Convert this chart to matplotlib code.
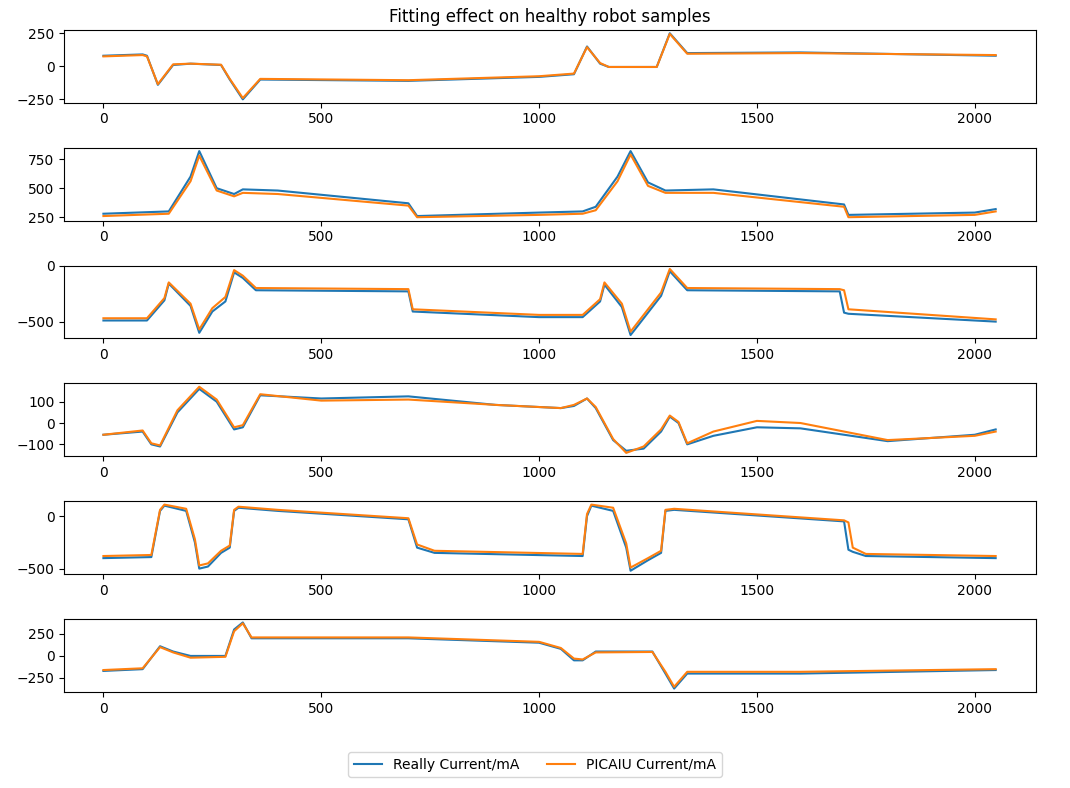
import matplotlib
matplotlib.use('Agg')
import matplotlib.pyplot as plt

# keypoints (sample index, current in mA)
p1_x = [0, 90, 100, 125, 160, 200, 270, 290, 320, 360, 700, 1000, 1080, 1110, 1140, 1160, 1270, 1300, 1340, 1600, 2048]
p1_real = [80, 90, 80, -140, 10, 20, 10, -100, -250, -100, -110, -80, -60, 150, 20, -5, -5, 250, 100, 105, 80]
p1_pica = [75, 85, 75, -135, 15, 20, 12, -95, -240, -95, -105, -75, -55, 145, 25, -5, -5, 245, 95, 100, 85]

p2_x = [0, 150, 200, 220, 260, 300, 320, 400, 700, 720, 1000, 1100, 1130, 1180, 1210, 1250, 1290, 1400, 1700, 1710, 2000, 2048]
p2_real = [280, 300, 600, 820, 500, 450, 490, 480, 370, 260, 290, 300, 340, 600, 820, 550, 480, 490, 360, 270, 290, 320]
p2_pica = [260, 280, 560, 780, 480, 430, 460, 450, 350, 250, 270, 280, 310, 560, 790, 520, 460, 460, 340, 250, 270, 300]

p3_x = [0, 100, 140, 150, 200, 220, 250, 280, 300, 320, 350, 700, 710, 1000, 1100, 1140, 1150, 1190, 1210, 1250, 1280, 1300, 1340, 1690, 1700, 1710, 2048]
p3_real = [-490, -490, -310, -160, -360, -600, -410, -320, -60, -110, -220, -230, -410, -460, -460, -320, -170, -370, -620, -420, -270, -50, -220, -230, -420, -430, -500]
p3_pica = [-470, -470, -290, -150, -340, -570, -380, -280, -40, -90, -200, -210, -390, -440, -440, -300, -150, -340, -590, -390, -240, -30, -200, -210, -220, -390, -480]

p4_x = [0, 90, 110, 130, 170, 220, 260, 300, 320, 360, 500, 700, 900, 1050, 1080, 1110, 1130, 1170, 1200, 1240, 1280, 1300, 1320, 1340, 1400, 1500, 1600, 1800, 2000, 2048]
p4_real = [-55, -40, -100, -110, 50, 160, 100, -30, -20, 130, 115, 125, 85, 70, 80, 115, 70, -80, -130, -120, -40, 30, 0, -100, -60, -20, -25, -85, -55, -30]
p4_pica = [-55, -35, -95, -105, 60, 170, 110, -20, -10, 135, 105, 110, 85, 70, 85, 115, 75, -75, -140, -110, -30, 35, 5, -95, -40, 10, 0, -80, -60, -40]

p5_x = [0, 110, 130, 140, 190, 210, 220, 240, 270, 290, 300, 310, 400, 700, 720, 760, 1100, 1110, 1120, 1170, 1200, 1210, 1250, 1280, 1290, 1310, 1700, 1710, 1720, 1750, 2048]
p5_real = [-400, -390, 50, 100, 50, -250, -500, -480, -350, -300, 50, 80, 50, -30, -300, -350, -380, 0, 100, 50, -300, -520, -420, -350, 50, 60, -50, -320, -340, -380, -400]
p5_pica = [-380, -370, 60, 110, 70, -220, -470, -450, -330, -280, 60, 90, 60, -20, -270, -330, -360, 20, 110, 80, -260, -490, -400, -330, 60, 70, -40, -60, -300, -360, -380]

p6_x = [0, 90, 130, 160, 200, 280, 300, 320, 340, 700, 1000, 1050, 1080, 1100, 1130, 1260, 1290, 1310, 1340, 1600, 2048]
p6_real = [-170, -150, 110, 50, 0, 0, 300, 380, 200, 200, 150, 80, -50, -50, 50, 50, -200, -370, -200, -200, -160]
p6_pica = [-160, -140, 100, 40, -20, -10, 280, 370, 210, 210, 160, 90, -30, -40, 40, 45, -180, -350, -180, -180, -150]

panels = [(p1_x, p1_real, p1_pica, [-250, 0, 250]),
          (p2_x, p2_real, p2_pica, [250, 500, 750]),
          (p3_x, p3_real, p3_pica, [-500, 0]),
          (p4_x, p4_real, p4_pica, [-100, 0, 100]),
          (p5_x, p5_real, p5_pica, [-500, 0]),
          (p6_x, p6_real, p6_pica, [-250, 0, 250])]

fig, axes = plt.subplots(6, 1, figsize=(10.7, 7.88), dpi=100)
fig.subplots_adjust(left=0.06, right=0.968, top=0.962, bottom=0.122, hspace=0.62)

for ax, (x, real, pica, yt) in zip(axes, panels):
    l1, = ax.plot(x, real, color='#1f77b4', lw=1.5, label='Really Current/mA')
    l2, = ax.plot(x, pica, color='#ff7f0e', lw=1.5, label='PICAIU Current/mA')
    ax.set_xticks([0, 500, 1000, 1500, 2000])
    ax.set_yticks(yt)
    ax.set_xlim(-90, 2140)

axes[0].set_title('Fitting effect on healthy robot samples', fontsize=12)
fig.legend([l1, l2], ['Really Current/mA', 'PICAIU Current/mA'], loc='lower center',
           ncol=2, bbox_to_anchor=(0.5, 0.005))

fig.savefig('out.png')
